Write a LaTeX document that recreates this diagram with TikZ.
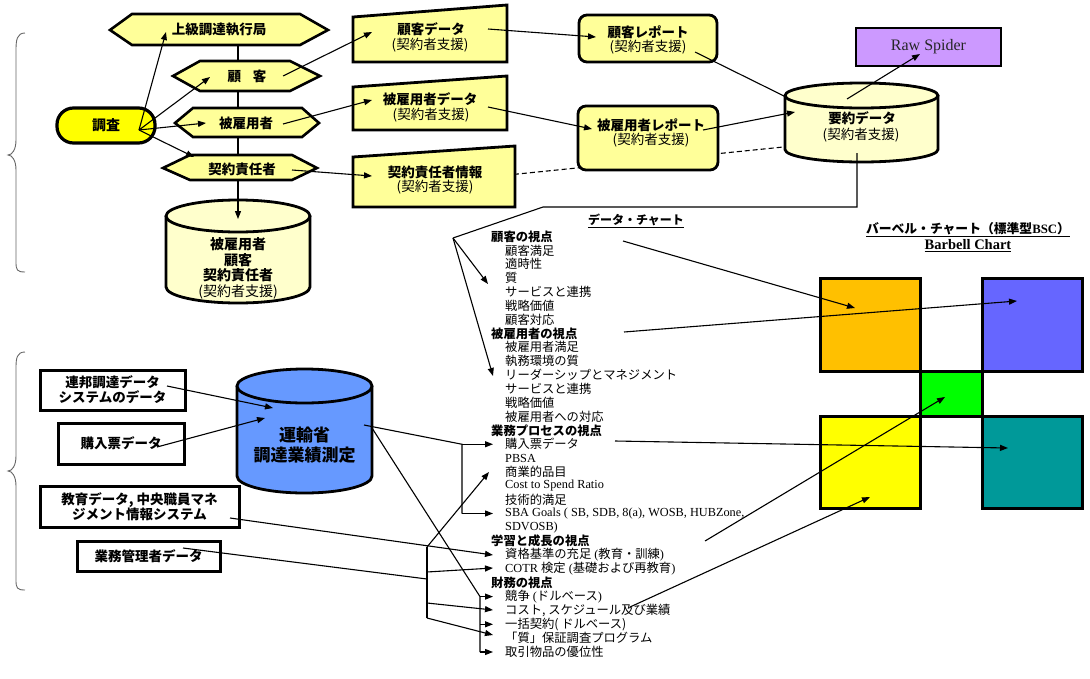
\documentclass[tikz,border=0pt]{standalone}
\usepackage{fontspec}
\setmainfont{Liberation Serif}
\newfontfamily\jp{Noto Sans CJK JP}
\usetikzlibrary{arrows.meta}
\definecolor{ly}{HTML}{FFFF99}
\definecolor{cy}{HTML}{FFFFCC}
\definecolor{yy}{HTML}{FFFF00}
\definecolor{pur}{HTML}{CC99FF}
\definecolor{blu}{HTML}{6699FF}
\definecolor{org}{HTML}{FFC000}
\definecolor{bsq}{HTML}{6666FF}
\definecolor{grn}{HTML}{00FF00}
\definecolor{tea}{HTML}{009999}
\newcommand\mycyl[6]{%
  \filldraw[line width=2.8pt, fill=#6] (#1,#3) -- (#1,#4)
    .. controls (#1,{#4+0.5523*#5}) and ({(#1+#2)/2-0.5523*(#2-#1)/2},{#4+#5}) .. ({(#1+#2)/2},{#4+#5})
    .. controls ({(#1+#2)/2+0.5523*(#2-#1)/2},{#4+#5}) and (#2,{#4+0.5523*#5}) .. (#2,#4) -- (#2,#3);
  \filldraw[line width=2.8pt, fill=#6] ({(#1+#2)/2},#3) ellipse [x radius={(#2-#1)/2}, y radius=#5];
}
\begin{document}
\begin{tikzpicture}[x=1pt,y=-1pt,
  conn/.style={line width=1.1pt},
  arr/.style={line width=1.1pt,-{Triangle[length=8pt,width=6pt]}},
  shp/.style={line width=2.6pt},
  jb/.style={font=\jp\bfseries\fontsize{13.5}{15.5}\selectfont, inner sep=0pt, align=center},
  jn/.style={font=\jp\fontsize{13.5}{15.5}\selectfont, inner sep=0pt, align=center},
  lh/.style={anchor=west, inner sep=0pt, font=\jp\bfseries\fontsize{12.3}{13}\selectfont},
  li/.style={anchor=west, inner sep=0pt, font=\jp\fontsize{12.3}{13}\selectfont},
  brc/.style={line width=0.9pt, draw=black!60},
  sq/.style={draw, line width=3pt, inner sep=0pt},
  lbox/.style={draw, line width=3pt, fill=white, inner sep=0pt, align=center, font=\jp\bfseries\fontsize{13.5}{15}\selectfont},
]
\useasboundingbox (0,0) rectangle (1090,678);

% braces
\draw[brc] (25,33) .. controls (17,33) and (16,40) .. (16,50) -- (16,140) .. controls (16,150) and (12,155) .. (8,155) .. controls (12,155) and (16,160) .. (16,170) -- (16,262) .. controls (16,270) and (17,272) .. (25,272);
\draw[brc] (25,352) .. controls (17,352) and (16,358) .. (16,368) -- (16,456) .. controls (16,466) and (12,471) .. (8,471) .. controls (12,471) and (16,476) .. (16,486) -- (16,580) .. controls (16,588) and (17,590) .. (25,590);

% coordinates for connectors
\coordinate (chs) at (139,130);
\coordinate (hx1L) at (166,32);
\coordinate (hx2L) at (210,77);
\coordinate (hx3L) at (206,123);
\coordinate (hx4L) at (194,157);
\coordinate (hx1B) at (238,45); \coordinate (hx2T) at (238,61);
\coordinate (hx2B) at (238,91); \coordinate (hx3T) at (238,108);
\coordinate (hx3B) at (238,137); \coordinate (hx4T) at (238,155);
\coordinate (hx4B) at (238,180); \coordinate (cy1T) at (238,219);
\coordinate (hx2R) at (283,76); \coordinate (tz1L) at (372,32);
\coordinate (hx3R) at (283,124); \coordinate (tz2L) at (372,100);
\coordinate (hx4R) at (292,170); \coordinate (tz3L) at (372,176);
\coordinate (tz1R) at (488,29); \coordinate (rp1L) at (596,37);
\coordinate (tz2R) at (488,107); \coordinate (rp2L) at (592,129);
\coordinate (tz3R) at (498,176); \coordinate (yoD) at (803,145);
\coordinate (rp1R) at (695,52); \coordinate (yoTL) at (786,97);
\coordinate (rp2R) at (703,130); \coordinate (yoL) at (795,112);
\coordinate (yoT) at (847,99); \coordinate (rawS) at (920,54);
\coordinate (yoB) at (857,153); \coordinate (k1) at (857,207); \coordinate (k2) at (543,207);
\coordinate (fork) at (453,238);
\coordinate (fk1) at (488,284); \coordinate (fk2) at (493,376);
\coordinate (s1) at (623,241); \coordinate (e1) at (855,308);
\coordinate (s2) at (624,332); \coordinate (e2) at (1017,301);
\coordinate (s3) at (615,441); \coordinate (e3) at (1008,448);
\coordinate (s4) at (705,541); \coordinate (e4) at (945,397);
\coordinate (s5) at (630,607); \coordinate (e5) at (870,497);
\coordinate (fd) at (167,386); \coordinate (bcA) at (273,408);
\coordinate (kp) at (157,447); \coordinate (bcB) at (265,418);
\coordinate (bcC) at (364,425); \coordinate (b1t) at (462,444.25); \coordinate (b1b) at (462,513.5);
\coordinate (bcD) at (372,428); \coordinate (b2t) at (480,596.6); \coordinate (b2m) at (480,624.3); \coordinate (b2b) at (480,652);
\coordinate (ed) at (230,518);
\coordinate (gm) at (183,548); \coordinate (v1) at (427,579);
\coordinate (vt) at (427,547); \coordinate (vb) at (427,618);
\coordinate (v2) at (427,572); \coordinate (v3) at (427,603);
\coordinate (t15) at (493,444.25); \coordinate (t20) at (493,513.5);
\coordinate (t26) at (493,596.6); \coordinate (t28) at (493,624.3); \coordinate (t30) at (493,652);
\coordinate (t17) at (489,472); \coordinate (t24) at (493,568);
\coordinate (t27) at (493,610); \coordinate (t29) at (493,635); \coordinate (t23) at (493,555);

% dashed connector behind report box
\draw[conn, dash pattern=on 5pt off 3pt, -{Triangle[length=8pt,width=6pt]}] (tz3R) -- (yoD);

% hexagons
\filldraw[shp, fill=ly] (110,30) -- (132,14) -- (300,14) -- (328,30) -- (300,45) -- (132,45) -- cycle;
\filldraw[shp, fill=ly] (173,76) -- (200,61) -- (290,61) -- (320,76) -- (290,91) -- (200,91) -- cycle;
\filldraw[shp, fill=ly] (175,123) -- (193,108) -- (302,108) -- (319,123) -- (302,137) -- (193,137) -- cycle;
\filldraw[shp, fill=ly] (163,168) -- (190,155) -- (292,155) -- (317,168) -- (292,180) -- (190,180) -- cycle;
\node[jb] (hx1) at (219,30) {上級調達執行局};
\node[jb] (hx2) at (247,76) {顧\hspace{12pt}客};
\node[jb] (hx3) at (246,123) {被雇用者};
\node[jb] (hx4) at (242,169) {契約責任者};

% 調査
\node[draw, line width=3.2pt, fill=yy, rounded corners=16.5pt, minimum width=98, minimum height=35, inner sep=0pt, font=\jp\bfseries\fontsize{14}{16}\selectfont] (chosa) at (106,125.5) {調査};

% cylinder 1
\mycyl{166}{310}{216}{287}{16}{cy}
\node[font=\jp\fontsize{14}{15.6}\selectfont, align=center, inner sep=0pt] (cyl1) at (238,268.5) {\textbf{被雇用者}\\\textbf{顧客}\\\textbf{契約責任者}\\(契約者支援)};

% trapezoid data boxes
\filldraw[line width=2.8pt, fill=ly] (353,17) -- (507,5) -- (507,62) -- (353,62) -- cycle;
\filldraw[line width=2.8pt, fill=ly] (353,87) -- (507,76) -- (507,130) -- (353,130) -- cycle;
\filldraw[line width=2.8pt, fill=ly] (353,157) -- (515,146) -- (515,207) -- (353,207) -- cycle;
\node[jb] (tz1) at (431,29) {顧客データ};
\node[jn] (tz1b) at (430,45) {(契約者支援)};
\node[jb] (tz2) at (430,99) {被雇用者データ};
\node[jn] (tz2b) at (431,115) {(契約者支援)};
\node[jb] (tz3) at (435,172) {契約責任者情報};
\node[jn] (tz3b) at (435,187) {(契約者支援)};

% report boxes
\node[draw, line width=2.8pt, fill=ly, rounded corners=8pt, minimum width=138, minimum height=47, inner sep=0pt] (rp1) at (648,38.5) {};
\node[draw, line width=2.8pt, fill=ly, rounded corners=8pt, minimum width=140, minimum height=64, inner sep=0pt] (rp2) at (648,138) {};
\node[jb] (rp1t) at (648,32) {顧客レポート};
\node[jn] (rp1b) at (648,47) {(契約者支援)};
\node[jb] (rp2t) at (651,125) {被雇用者レポート};
\node[jn] (rp2b) at (651,140) {(契約者支援)};

% summary cylinder
\draw[conn] (rp1R) -- (yoTL);
\mycyl{785}{938}{95.5}{149.5}{12.5}{cy}
\node[jb] (yo) at (862,118) {要約データ};
\node[jn] (yob) at (861,135) {(契約者支援)};

% Raw Spider
\node[draw, line width=2.6pt, fill=pur, minimum width=145, minimum height=38, inner sep=0pt, font=\fontsize{16}{18}\selectfont, text=black!85] (raw) at (928.5,47) {Raw Spider};

% titles
\node[inner sep=0pt, font=\jp\bfseries\fontsize{12}{14}\selectfont] (dct) at (636,221) {\underline{データ・チャート}};
\node[inner sep=0pt, font=\jp\bfseries\fontsize{12.8}{14}\selectfont] (bbt) at (968,230) {\underline{バーベル・チャート（標準型{\rmfamily\bfseries BSC}）}};
\node[inner sep=0pt, font=\rmfamily\bfseries\fontsize{14.5}{16}\selectfont] (bbt2) at (968,246) {\underline{Barbell Chart}};

% list
\node[lh] (i0) at (491,236.5) {顧客の視点};
\node[li] (i1) at (505,250.35) {顧客満足};
\node[li] (i2) at (505,264.2) {適時性};
\node[li] (i3) at (505,278.05) {質};
\node[li] (i4) at (505,291.9) {サービスと連携};
\node[li] (i5) at (505,305.75) {戦略価値};
\node[li] (i6) at (505,319.6) {顧客対応};
\node[lh] (i7) at (491,333.45) {被雇用者の視点};
\node[li] (i8) at (505,347.3) {被雇用者満足};
\node[li] (i9) at (505,361.15) {執務環境の質};
\node[li] (i10) at (505,375.0) {リーダーシップとマネジメント};
\node[li] (i11) at (505,388.85) {サービスと連携};
\node[li] (i12) at (505,402.7) {戦略価値};
\node[li] (i13) at (505,416.55) {被雇用者への対応};
\node[lh] (i14) at (491,430.4) {業務プロセスの視点};
\node[li] (i15) at (505,444.25) {購入票データ};
\node[li] (i16) at (505,458.1) {\rmfamily PBSA};
\node[li] (i17) at (505,471.95) {商業的品目};
\node[li] (i18) at (505,485.8) {\rmfamily Cost to Spend Ratio};
\node[li] (i19) at (505,499.65) {技術的満足};
\node[li] (i20) at (505,513.5) {\rmfamily SBA Goals ( SB, SDB, 8(a), WOSB, HUBZone,};
\node[li] (i21) at (505,527.35) {\rmfamily SDVOSB)};
\node[lh] (i22) at (491,541.2) {学習と成長の視点};
\node[li] (i23) at (505,555.05) {資格基準の充足{\rmfamily\ (}教育・訓練{\rmfamily )}};
\node[li] (i24) at (505,568.9) {{\rmfamily COTR }検定{\rmfamily\ (}基礎および再教育{\rmfamily )}};
\node[lh] (i25) at (491,582.75) {財務の視点};
\node[li] (i26) at (505,596.6) {競争{\rmfamily\ (}ドルベース{\rmfamily )}};
\node[li] (i27) at (505,610.45) {コスト, スケジュール及び業績};
\node[li] (i28) at (505,624.3) {一括契約( ドルベース)};
\node[li] (i29) at (505,638.15) {「質」保証調査プログラム};
\node[li] (i30) at (505,652) {取引物品の優位性};

% barbell squares
\node[sq, fill=org, minimum width=100, minimum height=93] (sqO) at (870,324.5) {};
\node[sq, fill=bsq, minimum width=100, minimum height=93] (sqB) at (1032,324.5) {};
\node[sq, fill=grn, minimum width=62, minimum height=45] (sqG) at (951,393.5) {};
\node[sq, fill=yy, minimum width=100, minimum height=92] (sqY) at (870,462) {};
\node[sq, fill=tea, minimum width=100, minimum height=92] (sqT) at (1032,462) {};

% lower-left boxes
\node[lbox, minimum width=145, minimum height=40] (fed) at (112.5,390) {連邦調達データ\\システムのデータ};
\node[lbox, minimum width=126, minimum height=41] (kpd) at (121,443.5) {購入票データ};
\node[lbox, minimum width=199, minimum height=41] (edu) at (139.5,507) {教育データ, 中央職員マネ\\ジメント情報システム};
\node[lbox, minimum width=143, minimum height=30] (gmd) at (148.5,556) {業務管理者データ};

% blue cylinder
\mycyl{237}{372}{386}{476}{17}{blu}
\node[font=\jp\bfseries\fontsize{17}{20}\selectfont, align=center, inner sep=0pt] (dot) at (304.5,445) {運輸省\\調達業績測定};

% ---- connectors ----
\draw[arr] (chs) -- (hx1L);
\draw[arr] (chs) -- (hx2L);
\draw[arr] (chs) -- (hx3L);
\draw[arr] (chs) -- (hx4L);
\draw[conn] (hx1B) -- (hx2T);
\draw[conn] (hx2B) -- (hx3T);
\draw[conn] (hx3B) -- (hx4T);
\draw[arr] (hx4B) -- (cy1T);
\draw[arr] (hx2R) -- (tz1L);
\draw[arr] (hx3R) -- (tz2L);
\draw[arr] (hx4R) -- (tz3L);
\draw[arr] (tz1R) -- (rp1L);
\draw[arr] (tz2R) -- (rp2L);
\draw[arr] (rp2R) -- (yoL);
\draw[arr] (yoT) -- (rawS);
\draw[conn] (yoB) -- (k1) -- (k2) -- (fork);
\draw[arr] (fork) -- (fk1);
\draw[arr] (fork) -- (fk2);
\draw[arr] (s1) -- (e1);
\draw[arr] (s2) -- (e2);
\draw[arr] (s3) -- (e3);
\draw[arr] (s4) -- (e4);
\draw[arr] (s5) -- (e5);
\draw[arr] (fd) -- (bcA);
\draw[arr] (kp) -- (bcB);
\draw[conn] (bcC) -- (b1t) -- (b1b);
\draw[arr] (b1t) -- (t15);
\draw[arr] (b1b) -- (t20);
\draw[conn] (bcD) -- (b2t) -- (b2b);
\draw[arr] (b2t) -- (t26);
\draw[arr] (b2m) -- (t28);
\draw[arr] (b2b) -- (t30);
\draw[arr] (ed) -- (t23);
\draw[conn] (gm) -- (v1);
\draw[conn] (vt) -- (vb);
\draw[arr] (vt) -- (t17);
\draw[arr] (v2) -- (t24);
\draw[arr] (v3) -- (t27);
\draw[arr] (vb) -- (t29);
\end{tikzpicture}
\end{document}
